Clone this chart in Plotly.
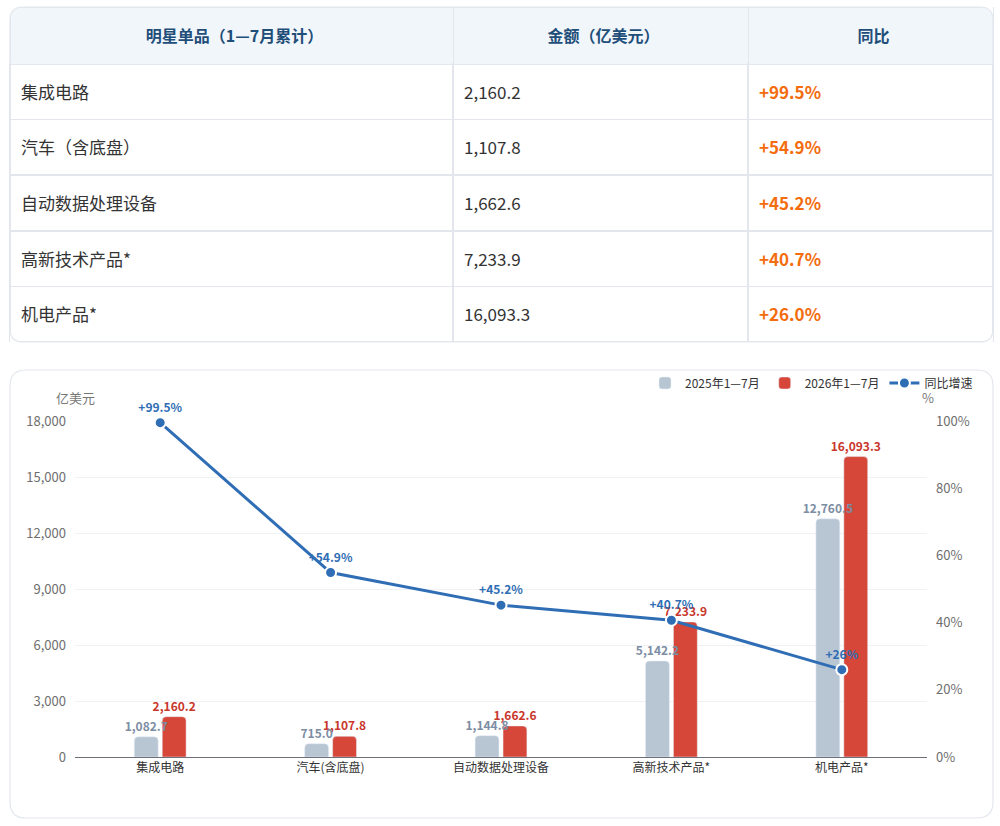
import plotly.graph_objects as go

# ---- data ----
categories = ["集成电路", "汽车(含底盘)", "自动数据处理设备", "高新技术产品*", "机电产品*"]
table_items = ["集成电路", "汽车（含底盘）", "自动数据处理设备", "高新技术产品*", "机电产品*"]
values_2025 = [1082.7, 715.0, 1144.8, 5142.2, 12760.5]
values_2026 = [2160.2, 1107.8, 1662.6, 7233.9, 16093.3]
yoy_growth = [99.5, 54.9, 45.2, 40.7, 26.0]
table_headers = ["明星单品（1—7月累计）", "金额（亿美元）", "同比"]
left_ticks = [0, 3000, 6000, 9000, 12000, 15000, 18000]
right_ticks = [0, 20, 40, 60, 80, 100]

W, H = 1000, 826
FONT = "Noto Sans CJK SC, Noto Sans, sans-serif"

def px(x):
    return x / W

def py(y):
    return 1 - y / H

fig = go.Figure()

col_widths = [443, 295, 245]
TEXT_SHIFT = 15
TEXT_DX = 3

# ---- table grid (fills & lines) ----
fig.add_trace(go.Table(
    domain=dict(x=[px(10), px(993)], y=[py(342), py(7)]),
    columnwidth=col_widths,
    header=dict(
        values=["" for _ in table_headers],
        fill_color="#f1f6fb",
        line=dict(color="#e3e7ee", width=1),
        height=57,
    ),
    cells=dict(
        values=[["" for _ in table_items] for _ in table_headers],
        fill_color="white",
        line=dict(color="#e3e6ec", width=1.5),
        height=55.6,
    ),
))

# ---- table text (shifted to centre text in each cell) ----
fig.add_trace(go.Table(
    domain=dict(x=[px(10 + TEXT_DX), px(993 + TEXT_DX)],
                y=[py(342 + TEXT_SHIFT), py(7 + TEXT_SHIFT)]),
    columnwidth=col_widths,
    header=dict(
        values=table_headers,
        fill_color="rgba(0,0,0,0)",
        line=dict(color="rgba(0,0,0,0)", width=0),
        align="center",
        height=56,
        font=dict(family=FONT, size=16, color="#1f4e79", weight="bold"),
    ),
    cells=dict(
        values=[
            table_items,
            [f"{v:,.1f}" for v in values_2026],
            [f"+{g:.1f}%" for g in yoy_growth],
        ],
        fill_color="rgba(0,0,0,0)",
        line=dict(color="rgba(0,0,0,0)", width=0),
        align="left",
        height=55.6,
        font=dict(family=FONT, size=17, color=["#333333", "#333333", "#f36c0d"],
                  weight=["normal", "normal", "bold"]),
    ),
))

# ---- bars (red first so the grey labels sit on top) ----
BAR_W = 0.14
fig.add_trace(go.Bar(
    x=categories, y=values_2026, name="2026年1—7月", legendrank=2,
    width=BAR_W, offset=0.012,
    marker=dict(color="#d6473a", cornerradius=4),
    text=[f"{v:,.1f}" for v in values_2026],
    textposition="outside", constraintext="none", cliponaxis=False,
    textfont=dict(family=FONT, size=12, color="#c9372c", weight="bold"),
    xaxis="x", yaxis="y",
))
fig.add_trace(go.Bar(
    x=categories, y=values_2025, name="2025年1—7月", legendrank=1,
    width=BAR_W, offset=-0.152,
    marker=dict(color="#b8c6d4", cornerradius=4),
    text=[f"{v:,.1f}" for v in values_2025],
    textposition="outside", constraintext="none", cliponaxis=False,
    textfont=dict(family=FONT, size=12, color="#7d8da3", weight="bold"),
    xaxis="x", yaxis="y",
))

# ---- line ----
fig.add_trace(go.Scatter(
    x=categories, y=yoy_growth, name="同比增速", legendrank=3,
    mode="lines+markers+text",
    line=dict(color="#2f6db5", width=3),
    marker=dict(size=11, color="#2f6db5", line=dict(color="white", width=2)),
    text=[f"+{g:g}%" for g in yoy_growth],
    textposition="top center",
    textfont=dict(family=FONT, size=12, color="#2f6db5", weight="bold"),
    cliponaxis=False,
    xaxis="x", yaxis="y2",
))

# ---- card outlines ----
def rounded_rect(x0, y0, x1, y1, r):
    X0, X1 = px(x0), px(x1)
    Y0, Y1 = py(y0), py(y1)
    rx, ry = r / W, r / H
    return (f"M {X0+rx},{Y0} L {X1-rx},{Y0} Q {X1},{Y0} {X1},{Y0-ry} "
            f"L {X1},{Y1+ry} Q {X1},{Y1} {X1-rx},{Y1} "
            f"L {X0+rx},{Y1} Q {X0},{Y1} {X0},{Y1+ry} "
            f"L {X0},{Y0-ry} Q {X0},{Y0} {X0+rx},{Y0} Z")

def corner_masks(x0, y0, x1, y1, r):
    X0, X1 = px(x0), px(x1)
    Y0, Y1 = py(y0), py(y1)
    rx, ry = r / W, r / H
    paths = [
        f"M {X0},{Y0} L {X0+rx},{Y0} Q {X0},{Y0} {X0},{Y0-ry} Z",
        f"M {X1},{Y0} L {X1-rx},{Y0} Q {X1},{Y0} {X1},{Y0-ry} Z",
        f"M {X0},{Y1} L {X0+rx},{Y1} Q {X0},{Y1} {X0},{Y1+ry} Z",
        f"M {X1},{Y1} L {X1-rx},{Y1} Q {X1},{Y1} {X1},{Y1+ry} Z",
    ]
    return [dict(type="path", xref="paper", yref="paper", path=p,
                 fillcolor="white", line=dict(width=0), layer="above") for p in paths]

shapes = corner_masks(10, 7, 993, 342, 13) + [
    dict(type="path", xref="paper", yref="paper", path=rounded_rect(10, 7, 993, 342, 13),
         line=dict(color="#e3e7ee", width=1.2), layer="above"),
    dict(type="path", xref="paper", yref="paper", path=rounded_rect(10, 370, 993, 818, 16),
         line=dict(color="#e3e7ee", width=1.2), fillcolor="rgba(0,0,0,0)", layer="below"),
]

annotations = [
    dict(text="亿美元", x=px(75), y=py(397), xref="paper", yref="paper",
         xanchor="center", yanchor="middle", showarrow=False,
         font=dict(family=FONT, size=13, color="#777777")),
    dict(text="%", x=px(928), y=py(397), xref="paper", yref="paper",
         xanchor="center", yanchor="middle", showarrow=False,
         font=dict(family=FONT, size=13, color="#777777")),
]

fig.update_layout(
    width=W, height=H,
    margin=dict(l=0, r=0, t=0, b=0, pad=0, autoexpand=False),
    paper_bgcolor="white", plot_bgcolor="white",
    font=dict(family=FONT, color="#333333"),
    barmode="overlay",
    xaxis=dict(
        domain=[px(75), px(927)],
        anchor="y",
        showline=True, linecolor="#6e7079", linewidth=1,
        ticks="", showgrid=False, automargin=False,
        tickfont=dict(family=FONT, size=12, color="#333333"),
    ),
    yaxis=dict(
        domain=[py(757), py(421)],
        range=[0, 18000],
        tickvals=left_ticks,
        tickformat=",",
        showgrid=True, gridcolor="#f0f1f4", gridwidth=1,
        zeroline=False, showline=False, automargin=False,
        tickfont=dict(family=FONT, size=13, color="#6e6e6e"),
        ticklabelstandoff=8,
    ),
    yaxis2=dict(
        overlaying="y", side="right", anchor="x",
        range=[0, 100],
        tickvals=right_ticks, ticktext=[f"{v}%" for v in right_ticks],
        showgrid=False, zeroline=False, showline=False, automargin=False,
        tickfont=dict(family=FONT, size=13, color="#6e6e6e"),
        ticklabelstandoff=8,
    ),
    legend=dict(
        orientation="h", x=px(978), y=py(383), xanchor="right", yanchor="middle",
        font=dict(family=FONT, size=12, color="#333333"),
        bgcolor="rgba(0,0,0,0)",
    ),
    shapes=shapes,
    annotations=annotations,
)

fig.write_html(
    "out.html",
    config={"displayModeBar": False},
    post_script="document.body.style.margin='0';document.documentElement.style.overflow='hidden';",
)
